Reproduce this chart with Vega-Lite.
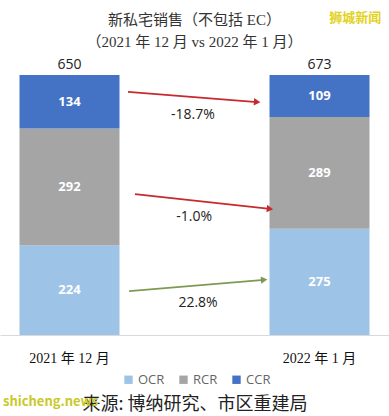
{
  "$schema": "https://vega.github.io/schema/vega-lite/v6.json",
  "width": 389,
  "height": 260,
  "autosize": {"type": "none"},
  "padding": {"top": 75, "bottom": 81, "left": 0, "right": 0},
  "background": "white",
  "config": {"view": {"stroke": null}},
  "title": {
    "text": ["新私宅销售（不包括 EC）", "（2021 年 12 月 vs 2022 年 1 月）"],
    "font": "Liberation Serif, Noto Sans CJK SC",
    "fontSize": 15,
    "fontWeight": "normal",
    "color": "#333333",
    "lineHeight": 22,
    "anchor": "middle",
    "offset": -38
  },
  "datasets": {
    "sales": [
      {"period": "2021 年 12 月", "region": "OCR", "value": 224},
      {"period": "2021 年 12 月", "region": "RCR", "value": 292},
      {"period": "2021 年 12 月", "region": "CCR", "value": 134},
      {"period": "2022 年 1 月", "region": "OCR", "value": 275},
      {"period": "2022 年 1 月", "region": "RCR", "value": 289},
      {"period": "2022 年 1 月", "region": "CCR", "value": 109}
    ],
    "changes": [
      {"chg": -18.7, "x1": 0.329, "y1": 0.935, "x2": 0.661, "y2": 0.896, "lx": 0.496, "ly": 0.846},
      {"chg": -1.0, "x1": 0.347, "y1": 0.542, "x2": 0.694, "y2": 0.485, "lx": 0.499, "ly": 0.454},
      {"chg": 22.8, "x1": 0.332, "y1": 0.169, "x2": 0.679, "y2": 0.212, "lx": 0.509, "ly": 0.123}
    ],
    "marks": [
      {"label": "狮城新闻", "x": 0.913, "y": 1.219, "kind": "top"},
      {"label": "shicheng.news", "x": 0.13, "y": -0.258, "kind": "bottom"}
    ]
  },
  "layer": [
    {
      "data": {"name": "sales"},
      "transform": [
        {"calculate": "indexof(['OCR','RCR','CCR'], datum.region)", "as": "rank"},
        {"stack": "value", "groupby": ["period"], "sort": [{"field": "rank", "order": "ascending"}], "offset": "normalize", "as": ["y0", "y1"]},
        {"calculate": "(datum.y0 + datum.y1) / 2", "as": "ym"}
      ],
      "encoding": {
        "x": {
          "field": "period",
          "type": "nominal",
          "sort": null,
          "scale": {"paddingInner": 0.6, "paddingOuter": 0.078},
          "axis": {
            "labelAngle": 0,
            "labelFont": "Liberation Serif, Noto Sans CJK SC",
            "labelFontSize": 14,
            "labelColor": "#111111",
            "labelPadding": 16,
            "ticks": false,
            "domainColor": "#d9d9d9",
            "domainWidth": 1,
            "title": "来源: 博纳研究、市区重建局",
            "titleFont": "Noto Sans CJK SC",
            "titleFontSize": 18,
            "titleFontWeight": "normal",
            "titleColor": "#222222",
            "titlePadding": 30
          }
        }
      },
      "layer": [
        {
          "mark": {"type": "bar"},
          "encoding": {
            "y": {"field": "y0", "type": "quantitative", "scale": {"domain": [0, 1], "nice": false}, "axis": null},
            "y2": {"field": "y1"},
            "color": {
              "field": "region",
              "type": "nominal",
              "sort": ["OCR", "RCR", "CCR"],
              "scale": {"domain": ["OCR", "RCR", "CCR"], "range": ["#9DC3E6", "#A5A5A5", "#4472C4"]},
              "legend": {
                "title": null,
                "orient": "none",
                "direction": "horizontal",
                "legendX": 122,
                "legendY": 298,
                "symbolType": "square",
                "symbolSize": 70,
                "symbolStrokeWidth": 0,
                "labelFont": "Open Sans",
                "labelFontSize": 13,
                "labelColor": "#666666",
                "columnPadding": 12,
                "labelOffset": 3
              }
            }
          }
        },
        {
          "mark": {"type": "text", "color": "white", "fontWeight": "bold", "fontSize": 13, "font": "Open Sans", "baseline": "middle"},
          "encoding": {
            "y": {"field": "ym", "type": "quantitative", "scale": {"domain": [0, 1], "nice": false}},
            "text": {"field": "value", "type": "quantitative"}
          }
        },
        {
          "transform": [{"aggregate": [{"op": "sum", "field": "value", "as": "total"}], "groupby": ["period"]}],
          "mark": {"type": "text", "color": "#222222", "fontSize": 14, "font": "Open Sans", "baseline": "bottom", "dy": -3},
          "encoding": {
            "y": {"datum": 1, "type": "quantitative", "scale": {"domain": [0, 1], "nice": false}},
            "text": {"field": "total", "type": "quantitative"}
          }
        }
      ]
    },
    {
      "data": {"name": "changes"},
      "transform": [
        {"calculate": "atan2((datum.y1 - datum.y2) * 260, (datum.x2 - datum.x1) * 389) * 180 / PI", "as": "ang"},
        {"calculate": "(datum.chg < 0 ? '-' : '') + format(abs(datum.chg), '.1f') + '%'", "as": "txt"}
      ],
      "layer": [
        {
          "mark": {"type": "rule", "strokeWidth": 1.8},
          "encoding": {
            "x": {"field": "x1", "type": "quantitative", "scale": {"domain": [0, 1], "nice": false}, "axis": null},
            "x2": {"field": "x2"},
            "y": {"field": "y1", "type": "quantitative", "scale": {"domain": [0, 1], "nice": false}},
            "y2": {"field": "y2"},
            "color": {"condition": {"test": "datum.chg < 0", "value": "#C62A2F"}, "value": "#7E9A52"}
          }
        },
        {
          "mark": {"type": "point", "shape": "triangle-right", "filled": true, "size": 55, "opacity": 1},
          "encoding": {
            "x": {"field": "x2", "type": "quantitative", "scale": {"domain": [0, 1], "nice": false}, "axis": null},
            "y": {"field": "y2", "type": "quantitative", "scale": {"domain": [0, 1], "nice": false}},
            "angle": {"field": "ang", "type": "quantitative", "scale": null},
            "color": {"condition": {"test": "datum.chg < 0", "value": "#C62A2F"}, "value": "#7E9A52"}
          }
        },
        {
          "mark": {"type": "text", "color": "#222222", "fontSize": 14, "font": "Open Sans", "baseline": "middle"},
          "encoding": {
            "x": {"field": "lx", "type": "quantitative", "scale": {"domain": [0, 1], "nice": false}, "axis": null},
            "y": {"field": "ly", "type": "quantitative", "scale": {"domain": [0, 1], "nice": false}},
            "text": {"field": "txt", "type": "nominal"}
          }
        },
        {
          "data": {"name": "marks"},
          "mark": {"type": "text", "fontSize": 13, "font": "Noto Sans CJK SC", "baseline": "middle", "fontWeight": "bold"},
          "encoding": {
            "x": {"field": "x", "type": "quantitative", "scale": {"domain": [0, 1], "nice": false}, "axis": null},
            "y": {"field": "y", "type": "quantitative", "scale": {"domain": [0, 1], "nice": false}},
            "text": {"field": "label", "type": "nominal"},
            "color": {"condition": {"test": "datum.kind === 'top'", "value": "#E3D21B"}, "value": "#C9C92A"}
          }
        }
      ]
    }
  ],
  "resolve": {"scale": {"x": "independent"}}
}
